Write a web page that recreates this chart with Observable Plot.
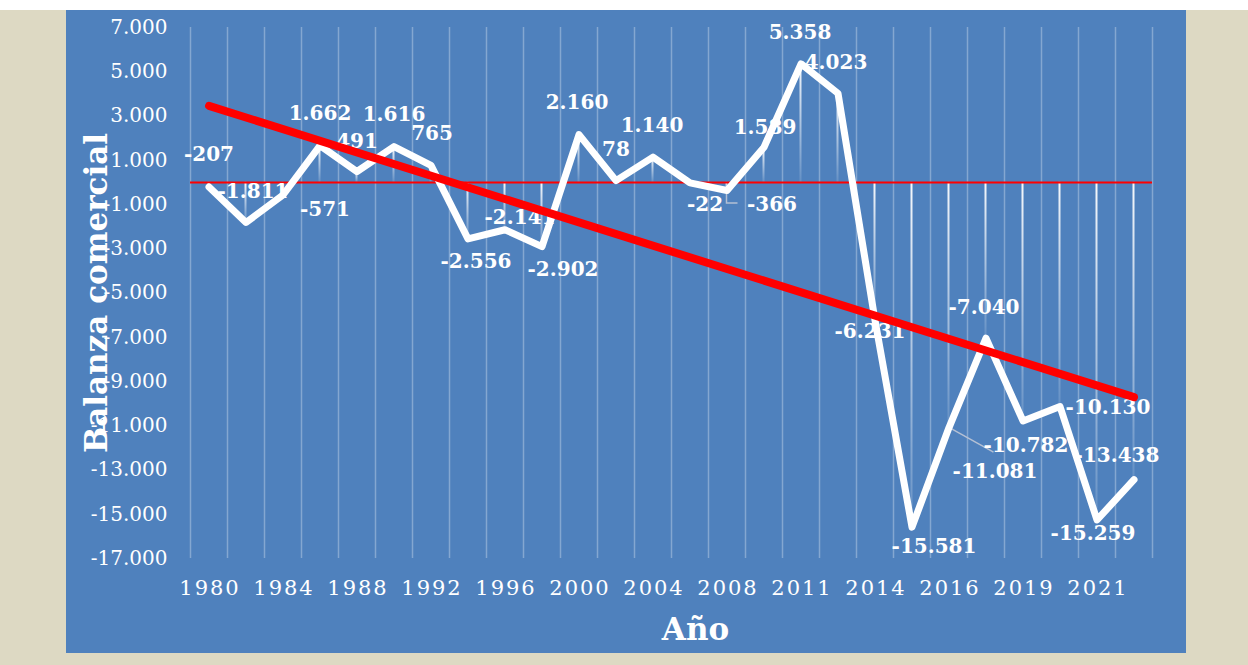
<!DOCTYPE html>
<html>
<head>
<meta charset="utf-8">
<script src="https://cdn.jsdelivr.net/npm/d3@7"></script>
<script src="https://cdn.jsdelivr.net/npm/@observablehq/plot@0.6"></script>
<style>
  html, body { margin: 0; padding: 0; background: #ffffff; }
  #wrap { position: absolute; left: 0; top: 10px; width: 1248px; height: 655px; background: #ddd9c3; }
  #panel { position: absolute; left: 66px; top: 0; width: 1120px; height: 643px; background: #4f81bd; }
  #chart { position: absolute; left: 0; top: 0; }
  #chart g[aria-label="x-axis tick label"] text { letter-spacing: 2px; font-size: 21px; }
</style>
</head>
<body>
<div id="wrap"><div id="panel"></div><div id="chart"></div></div>
<script>
// ---- data ----
const years = ["1980","1982","1984","1986","1988","1990","1992","1994","1996","1998",
               "2000","2002","2004","2006","2008","2010","2011","2012","2014","2015",
               "2016","2017","2019","2020","2021","2022"];
const balance = [-207, -1811, -571, 1662, 491, 1616, 765, -2556, -2141, -2902,
                 2160, 78, 1140, -22, -366, 1589, 5358, 4023, -6231, -15581,
                 -11081, -7040, -10782, -10130, -15259, -13438];
const yTicks = [7000, 5000, 3000, 1000, -1000, -3000, -5000, -7000, -9000, -11000, -13000, -15000, -17000];
const xTickLabels = ["1980","1984","1988","1992","1996","2000","2004","2008","2011","2014","2016","2019","2021"];
const yTitle = "Balanza comercial";
const xTitle = "Año";

// ---- layout (label placement, pixels) ----
const labelOffsets = [
  [0,-32],[7,-31],[42,15],[0,-32],[0,-30],[0,-32],[1,-32],[8,23],[15,-12],[21,23],
  [-2,-32],[0,-31],[-1,-32],[15,22],[45,14],[1,-20],[-1,-31],[-2,-31],[-5,11],[22,19],
  [46,44],[-2,-31],[3,25],[48,1],[-4,14],[-17,-24]
];

const fmt = v => (v < 0 ? "-" : "") + d3.format(",")(Math.abs(v)).replace(/,/g, ".");
const rows = years.map((year, i) => ({i, year, value: balance[i]}));
const xTickIdx = xTickLabels.map(l => years.indexOf(l));
const FONT = "DejaVu Serif";

const gradientDefs = () => {
  const defs = d3.create("svg:defs");
  const g = defs.append("linearGradient").attr("id", "dropGrad")
    .attr("x1", 0).attr("y1", 0).attr("x2", 0).attr("y2", 1);
  g.append("stop").attr("offset", "0%").attr("stop-color", "white").attr("stop-opacity", 0.95);
  g.append("stop").attr("offset", "100%").attr("stop-color", "white").attr("stop-opacity", 0.12);
  return defs.node();
};

const leaders = (index, scales) => {
  const {x, y} = scales;
  const g = d3.create("svg:g").attr("fill", "none").attr("stroke", "#b4c0d4").attr("stroke-width", 1.5);
  const a = [x(14), y(balance[14])];
  g.append("path").attr("d", `M${a[0]},${a[1]}V${a[1] + 13}h11`);
  const b = [x(20), y(balance[20])];
  g.append("path").attr("d", `M${b[0]},${b[1]}L${b[0] + 45},${b[1] + 25}`);
  return g.node();
};

const labelMarks = rows.map(r => Plot.text([r], {
  x: "i", y: "value", text: d => fmt(d.value),
  dx: labelOffsets[r.i][0], dy: labelOffsets[r.i][1],
  fill: "white", fontWeight: "bold", fontSize: 20, fontFamily: FONT,
  textAnchor: "middle", lineAnchor: "middle"
}));

const chart = Plot.plot({
  width: 1248, height: 655,
  marginTop: 17, marginBottom: 107, marginLeft: 190, marginRight: 96,
  style: {background: "transparent", color: "white", fontFamily: FONT, fontSize: "20px", overflow: "visible"},
  x: {type: "linear", domain: [-0.5, years.length - 0.5], axis: null},
  y: {domain: [-17000, 7000], axis: null},
  marks: [
    gradientDefs,
    Plot.ruleX(d3.range(-0.5, years.length, 1), {stroke: "white", strokeOpacity: 0.3, strokeWidth: 1.5}),
    Plot.axisY({ticks: yTicks, tickFormat: fmt, tickSize: 0, tickPadding: 23, label: null}),
    Plot.axisX({ticks: xTickIdx, tickFormat: i => years[i], tickSize: 0, tickPadding: 22, dx: 1, label: null}),
    Plot.rect(rows, {x1: "i", x2: "i", y1: 0, y2: "value", insetLeft: -1, insetRight: -1, fill: "url(#dropGrad)"}),
    Plot.ruleY([0], {stroke: "#ff0000", strokeWidth: 2}),
    leaders,
    ...labelMarks,
    Plot.line(rows, {x: "i", y: "value", stroke: "white", strokeWidth: 7, strokeLinejoin: "round", strokeLinecap: "round"}),
    Plot.linearRegressionY(rows, {x: "i", y: "value", stroke: "#ff0000", strokeWidth: 8, ci: 0, strokeLinecap: "round"}),
    Plot.text([yTitle], {text: d => d, frameAnchor: "left", rotate: -90, dx: -93, fontSize: 31,
      fontWeight: "bold", fill: "white", lineAnchor: "middle", textAnchor: "middle"}),
    Plot.text([xTitle], {text: d => d, frameAnchor: "bottom", dx: 24, dy: 72, fontSize: 31,
      fontWeight: "bold", fill: "white", lineAnchor: "middle", textAnchor: "middle"})
  ]
});
document.getElementById("chart").appendChild(chart);
</script>
</body>
</html>
